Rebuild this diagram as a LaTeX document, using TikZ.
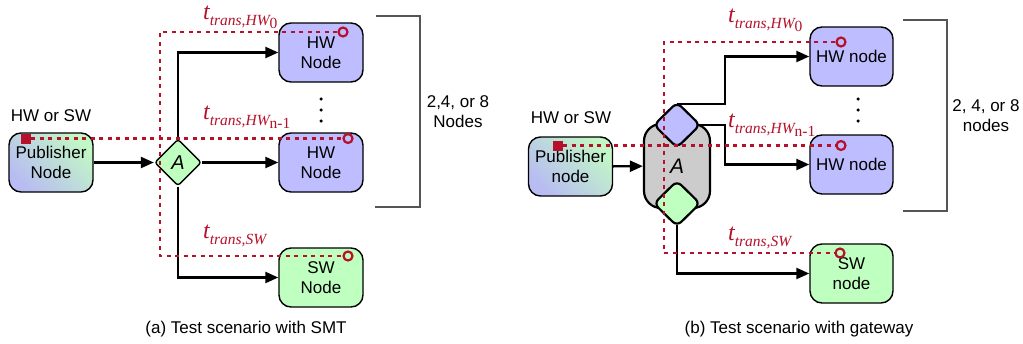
\documentclass[tikz,border=0pt]{standalone}
\usepackage{fontspec}
\setmainfont{Liberation Sans}
\newfontfamily\lserif{Liberation Serif}
\usetikzlibrary{arrows.meta,shapes.geometric}
\definecolor{hwc}{HTML}{BDBDFF}
\definecolor{swc}{HTML}{BFFFBF}
\definecolor{pubtop}{HTML}{C2F7C6}
\definecolor{pubbot}{HTML}{B8BCF2}
\definecolor{redc}{HTML}{B5112B}
\definecolor{boxc}{HTML}{CCCCCC}
\definecolor{brc}{HTML}{555555}
\newcommand{\tlab}[2]{{\lserif\fontsize{24}{24}\selectfont\itshape t}\raisebox{-6pt}{\lserif\fontsize{15.5}{15.5}\selectfont\itshape #1\raisebox{-3pt}{\upshape #2}}}
\tikzset{
  nbox/.style={draw, line width=1.4pt, rounded corners=12pt, minimum width=84pt, minimum height=59pt,
    align=center, font=\fontsize{17}{20}\selectfont, inner sep=0pt},
  hwbox/.style={nbox, fill=hwc},
  swbox/.style={nbox, fill=swc},
  pubbox/.style={nbox, top color=pubtop, bottom color=pubbot, shading angle=-45},
  arr/.style={line width=2.4pt, -{Triangle[length=13pt,width=11pt]}},
  rline/.style={draw=redc, line width=2.4pt, dash pattern=on 4pt off 4.5pt},
  rcirc/.style={circle, draw=redc, line width=2.2pt, minimum size=9pt, inner sep=0pt},
  rsq/.style={fill=redc, minimum size=10pt, inner sep=0pt},
  tlabel/.style={text=redc, anchor=base west, inner sep=0pt},
  vdot/.style={circle, fill=black, minimum size=3.5pt, inner sep=0pt},
  brk/.style={draw=brc, line width=1.6pt},
  txt/.style={align=center, font=\fontsize{17}{20}\selectfont, inner sep=0pt},
  gwdia/.style={diamond, draw, line width=2.2pt, rounded corners=6pt, minimum width=47pt, minimum height=46pt, inner sep=0pt},
}
\begin{document}
\begin{tikzpicture}[x=1pt,y=-1pt]
\useasboundingbox (0,0) rectangle (1023,343);
% ================= (a) =================
\node[txt] (hwsw1) at (51,116) {HW or SW};
\node[pubbox] (pub1) at (51,162.5) {Publisher\\Node};
\node[diamond, draw, line width=1.4pt, fill=swc, rounded corners=3pt, minimum width=47pt, minimum height=47pt, inner sep=0pt,
  font=\fontsize{20}{20}\selectfont\itshape] (A1) at (178,162.5) {A};
\node[hwbox] (hw1) at (321,52.5) {HW\\Node};
\node[hwbox] (hw2) at (321,162.5) {HW\\Node};
\node[swbox] (sw1) at (321,277.5) {SW\\Node};
\node[vdot] (d1) at (321,99) {};
\node[vdot] (d2) at (321,110) {};
\node[vdot] (d3) at (321,121) {};
\draw[brk] (376,16) -- (420,16) -- (420,207) -- (375,207);
\node[txt] (cnt1) at (458,111.5) {2,4, or 8\\Nodes};
\node[txt] (cap1) at (246,329) {(a) Test scenario with SMT};

\draw[arr] (pub1) -- (A1);
\draw[arr] (A1.north) |- (hw1);
\draw[arr] (A1) -- (hw2);
\draw[arr] (A1.south) |- (sw1);

\node[rsq] (sq1) at (26,138.5) {};
\node[rcirc] (c11) at (343,32) {};
\node[rcirc] (c12) at (348,138.5) {};
\node[rcirc] (c13) at (348,256) {};
\coordinate (lt1) at (160,32);
\coordinate (lb1) at (160,256);
\draw[rline] (sq1.east) -- (c12);
\draw[rline] (c11) -- (lt1) -- (lb1) -- (c13);
\node[tlabel] (l11) at (203,19) {\tlab{trans,HW}{0}};
\node[tlabel] (l12) at (203,119) {\tlab{trans,HW}{n-1}};
\node[tlabel] (l13) at (203,238) {\tlab{trans,SW}{}};

% ================= (b) =================
\node[txt] (hwsw2) at (571,118) {HW or SW};
\node[pubbox] (pub2) at (570.5,166.5) {Publisher\\node};
\node[draw, line width=2.2pt, fill=boxc, rounded corners=17pt, minimum width=66pt, minimum height=84pt, inner sep=0pt,
  font=\fontsize{21}{21}\selectfont\itshape] (gw) at (677,166) {A};
\node[gwdia, fill=hwc] (dt) at (677,125) {};
\node[gwdia, fill=swc] (db) at (677,203.5) {};
\node[hwbox, minimum width=83pt] (hw3) at (851.5,56.5) {HW node};
\node[hwbox, minimum width=83pt] (hw4) at (851.5,164.5) {HW node};
\node[swbox, minimum width=83pt] (sw2) at (851.5,273.5) {SW\\node};
\node[vdot] (d4) at (858,99) {};
\node[vdot] (d5) at (858,110) {};
\node[vdot] (d6) at (858,121) {};
\draw[brk] (903,20) -- (947,20) -- (947,211) -- (903,211);
\node[txt] (cnt2) at (986,116) {2, 4, or 8\\nodes};
\node[txt] (cap2) at (799,329) {(b) Test scenario with gateway};

\coordinate (jx) at (725,0);
\draw[arr] (pub2) -- (gw);
\draw[arr] ([yshift=-3pt]dt.north) -- ([yshift=-3pt]dt.north -| jx) |- (hw3.west);
\draw[arr] ([xshift=-3pt]dt.east) -- (dt.east -| jx) |- (hw4.west);
\draw[arr] ([yshift=3pt]db.south) |- (sw2.west);

\node[rsq] (sq2) at (558,145.5) {};
\node[rcirc] (c21) at (841,42) {};
\node[rcirc] (c22) at (841,145.5) {};
\node[rcirc] (c23) at (840,253) {};
\coordinate (lt2) at (664,42);
\coordinate (lb2) at (664,253);
\draw[rline] (sq2.east) -- (c22);
\draw[rline] (c21) -- (lt2) -- (lb2) -- (c23);
\node[tlabel] (l21) at (728,22) {\tlab{trans,HW}{0}};
\node[tlabel] (l22) at (728,127) {\tlab{trans,HW}{n-1}};
\node[tlabel] (l23) at (728,240) {\tlab{trans,SW}{}};
\end{tikzpicture}
\end{document}
